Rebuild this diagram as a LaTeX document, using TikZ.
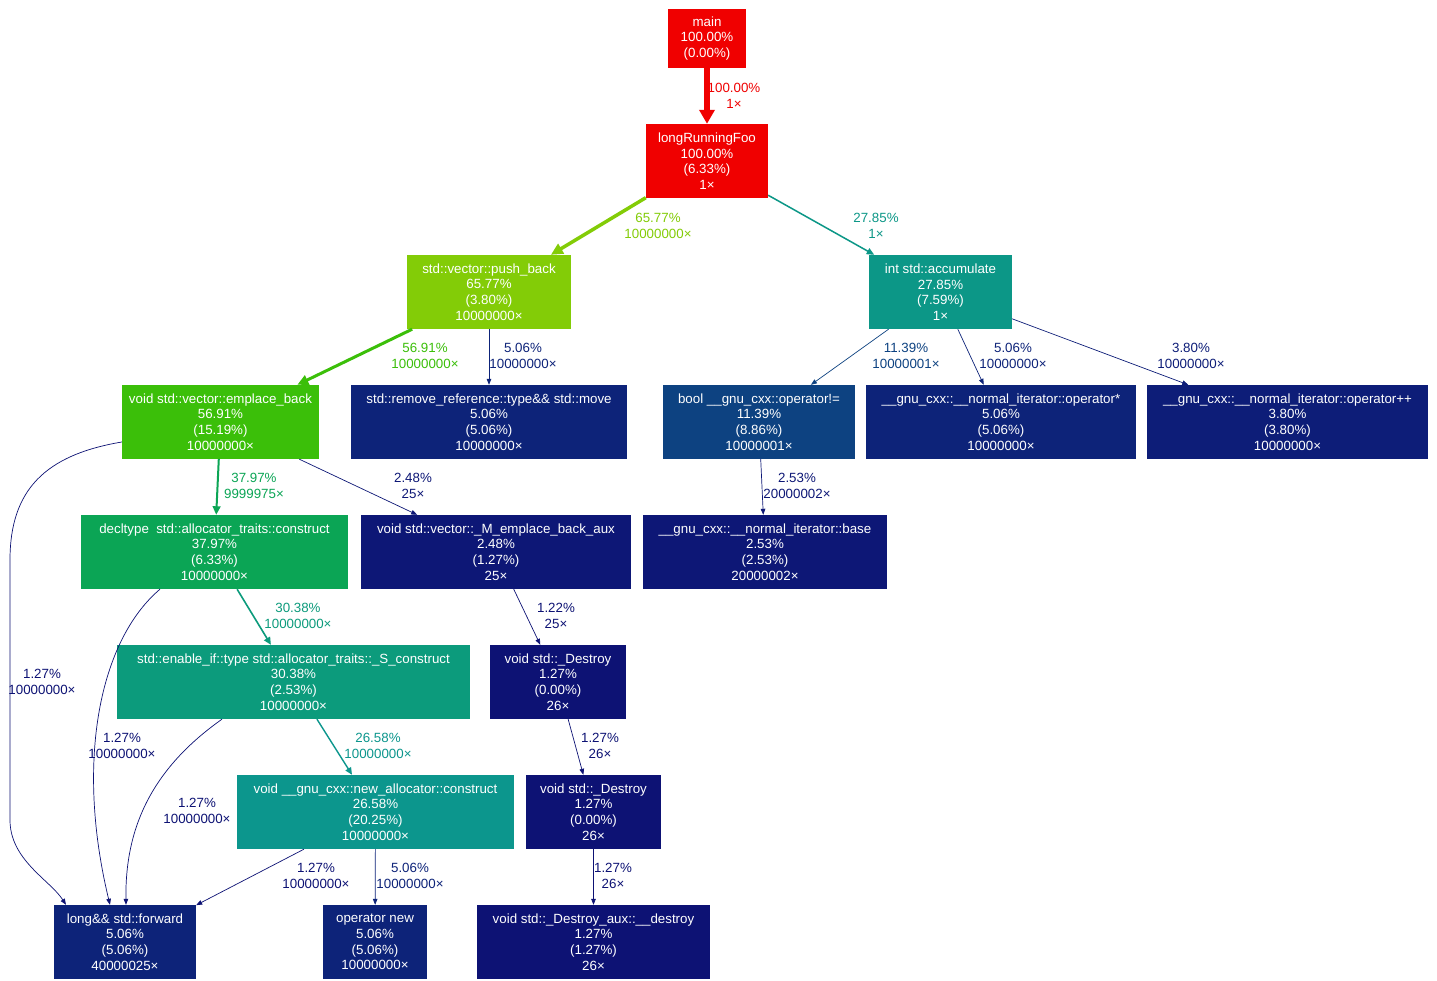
\documentclass[tikz,border=0pt]{standalone}
\usepackage{fontspec}
\setmainfont{Liberation Sans}
\usetikzlibrary{arrows.meta}
\definecolor{c100}{RGB}{240,0,0}
\definecolor{c6577}{RGB}{131,204,7}
\definecolor{c5691}{RGB}{59,191,9}
\definecolor{c3797}{RGB}{11,165,85}
\definecolor{c3038}{RGB}{12,155,124}
\definecolor{c2785}{RGB}{12,151,135}
\definecolor{c2658}{RGB}{12,150,141}
\definecolor{c1139}{RGB}{13,66,129}
\definecolor{c0506}{RGB}{13,35,121}
\definecolor{c0380}{RGB}{13,29,120}
\definecolor{c0253}{RGB}{13,23,118}
\definecolor{c0127}{RGB}{13,18,116}
\tikzset{
  gtext/.style={font=\fontsize{13.33pt}{15.6pt}\selectfont},
  fnode/.style={gtext, fill=#1, draw=none, text=white, align=center, inner sep=0pt,
                minimum height=74pt},
  elab/.style={gtext, text=#1, align=center, inner sep=0pt},
  earrow/.style n args={4}{draw=#1, line width=#2,
                -{Triangle[length=#3, width=#4]}},
  ethin/.style={earrow={#1}{0.7pt}{6pt}{4.6pt}},
}
\begin{document}
\begin{tikzpicture}[x=1pt, y=-1pt]
\fill[white] (0,0) rectangle (1437,981);
\useasboundingbox (0,0) rectangle (1437,981);

% nodes
\node[fnode=c100, minimum width=78pt, minimum height=59pt] (main) at (707,38.5) {main\\100.00\%\\(0.00\%)};
\node[fnode=c100, minimum width=122pt] (lrf) at (707,161) {longRunningFoo\\100.00\%\\(6.33\%)\\1×};
\node[fnode=c6577, minimum width=164pt] (push) at (489,292) {std::vector::push\_back\\65.77\%\\(3.80\%)\\10000000×};
\node[fnode=c2785, minimum width=143pt] (acc) at (940.5,292) {int std::accumulate\\27.85\%\\(7.59\%)\\1×};
\node[fnode=c5691, minimum width=197pt] (emp) at (220.5,422) {void std::vector::emplace\_back\\56.91\%\\(15.19\%)\\10000000×};
\node[fnode=c0506, minimum width=276pt] (move) at (489,422) {std::remove\_reference::type\&\& std::move\\5.06\%\\(5.06\%)\\10000000×};
\node[fnode=c1139, minimum width=192pt] (opne) at (759,422) {bool \_\_gnu\_cxx::operator!=\\11.39\%\\(8.86\%)\\10000001×};
\node[fnode=c0506, minimum width=270pt] (opstar) at (1001,422) {\_\_gnu\_cxx::\_\_normal\_iterator::operator*\\5.06\%\\(5.06\%)\\10000000×};
\node[fnode=c0380, minimum width=281pt] (opplus) at (1287.5,422) {\_\_gnu\_cxx::\_\_normal\_iterator::operator++\\3.80\%\\(3.80\%)\\10000000×};
\node[fnode=c3797, minimum width=267pt] (alloc) at (214.5,552) {decltype\ \ std::allocator\_traits::construct\\37.97\%\\(6.33\%)\\10000000×};
\node[fnode=c0253, minimum width=270pt] (memp) at (496,552) {void std::vector::\_M\_emplace\_back\_aux\\2.48\%\\(1.27\%)\\25×};
\node[fnode=c0253, minimum width=244pt] (base) at (765,552) {\_\_gnu\_cxx::\_\_normal\_iterator::base\\2.53\%\\(2.53\%)\\20000002×};
\node[fnode=c3038, minimum width=353pt] (scon) at (293.5,682) {std::enable\_if::type std::allocator\_traits::\_S\_construct\\30.38\%\\(2.53\%)\\10000000×};
\node[fnode=c0127, minimum width=136pt] (des1) at (558,682) {void std::\_Destroy\\1.27\%\\(0.00\%)\\26×};
\node[fnode=c2658, minimum width=277pt] (nalloc) at (375.5,812) {void \_\_gnu\_cxx::new\_allocator::construct\\26.58\%\\(20.25\%)\\10000000×};
\node[fnode=c0127, minimum width=135pt] (des2) at (593.5,812) {void std::\_Destroy\\1.27\%\\(0.00\%)\\26×};
\node[fnode=c0506, minimum width=142pt] (fwd) at (125,942) {long\&\& std::forward\\5.06\%\\(5.06\%)\\40000025×};
\node[fnode=c0506, minimum width=104pt] (opnew) at (375,942) {operator new\\5.06\%\\(5.06\%)\\10000000×};
\node[fnode=c0127, minimum width=233pt] (desaux) at (593.5,942) {void std::\_Destroy\_aux::\_\_destroy\\1.27\%\\(1.27\%)\\26×};

% edges
\draw[earrow={c100}{5.3pt}{14pt}{15pt}] (main) -- (lrf);
\draw[earrow={c6577}{3.5pt}{12pt}{11pt}] (lrf) -- (push);
\draw[earrow={c2785}{1.5pt}{7.5pt}{6.5pt}] (lrf) -- (acc);
\draw[earrow={c5691}{3.0pt}{11pt}{10pt}] (push) -- (emp);
\draw[ethin=c0506] (push) -- (move);
\draw[ethin=c1139] (acc) -- (opne);
\draw[ethin=c0506] (acc) -- (opstar);
\draw[ethin=c0380] (acc) -- (opplus);
\draw[earrow={c3797}{2.0pt}{8.5pt}{7.7pt}] (emp) -- (alloc);
\draw[ethin=c0253] (emp) -- (memp);
\draw[ethin=c0127] ([yshift=-20pt]emp.west) .. controls (45,455) and (10,490) .. (10,560)
   -- (10,820) .. controls (10,860) and (50,880) .. ([xshift=-59pt]fwd.north);
\draw[ethin=c0253] (opne) -- (base);
\draw[earrow={c3038}{1.6pt}{7.5pt}{6.8pt}] (alloc) -- (scon);
\draw[ethin=c0127] ([xshift=-54.5pt]alloc.south) .. controls (100,640) and (75,760) .. ([xshift=-15pt]fwd.north);
\draw[ethin=c0127] (memp) -- (des1);
\draw[earrow={c2658}{1.4pt}{7.2pt}{6.3pt}] (scon) -- (nalloc);
\draw[ethin=c0127] ([xshift=-71.5pt]scon.south) .. controls (150,770) and (125,830) .. ([xshift=1pt]fwd.north);
\draw[ethin=c0127] (des1) -- (des2);
\draw[ethin=c0127] (nalloc) -- (fwd);
\draw[ethin=c0506] (nalloc) -- (opnew);
\draw[ethin=c0127] (des2) -- (desaux);

% edge labels
\node[elab=c100] (l1) at (734,96) {100.00\%\\1×};
\node[elab=c6577] (l2) at (658,226) {65.77\%\\10000000×};
\node[elab=c2785] (l3) at (876,226) {27.85\%\\1×};
\node[elab=c5691] (l4) at (425,356) {56.91\%\\10000000×};
\node[elab=c0506] (l5) at (523,356) {5.06\%\\10000000×};
\node[elab=c1139] (l6) at (906,356) {11.39\%\\10000001×};
\node[elab=c0506] (l7) at (1013,356) {5.06\%\\10000000×};
\node[elab=c0380] (l8) at (1191,356) {3.80\%\\10000000×};
\node[elab=c3797] (l9) at (254,486) {37.97\%\\9999975×};
\node[elab=c0253] (l10) at (413,486) {2.48\%\\25×};
\node[elab=c0127] (l11) at (42,682) {1.27\%\\10000000×};
\node[elab=c0253] (l12) at (797,486) {2.53\%\\20000002×};
\node[elab=c3038] (l13) at (298,616) {30.38\%\\10000000×};
\node[elab=c0127] (l14) at (556,616) {1.22\%\\25×};
\node[elab=c0127] (l15) at (122,746) {1.27\%\\10000000×};
\node[elab=c2658] (l16) at (378,746) {26.58\%\\10000000×};
\node[elab=c0127] (l17) at (600,746) {1.27\%\\26×};
\node[elab=c0127] (l18) at (197,811) {1.27\%\\10000000×};
\node[elab=c0127] (l19) at (316,876) {1.27\%\\10000000×};
\node[elab=c0506] (l20) at (410,876) {5.06\%\\10000000×};
\node[elab=c0127] (l21) at (613,876) {1.27\%\\26×};
\end{tikzpicture}
\end{document}
